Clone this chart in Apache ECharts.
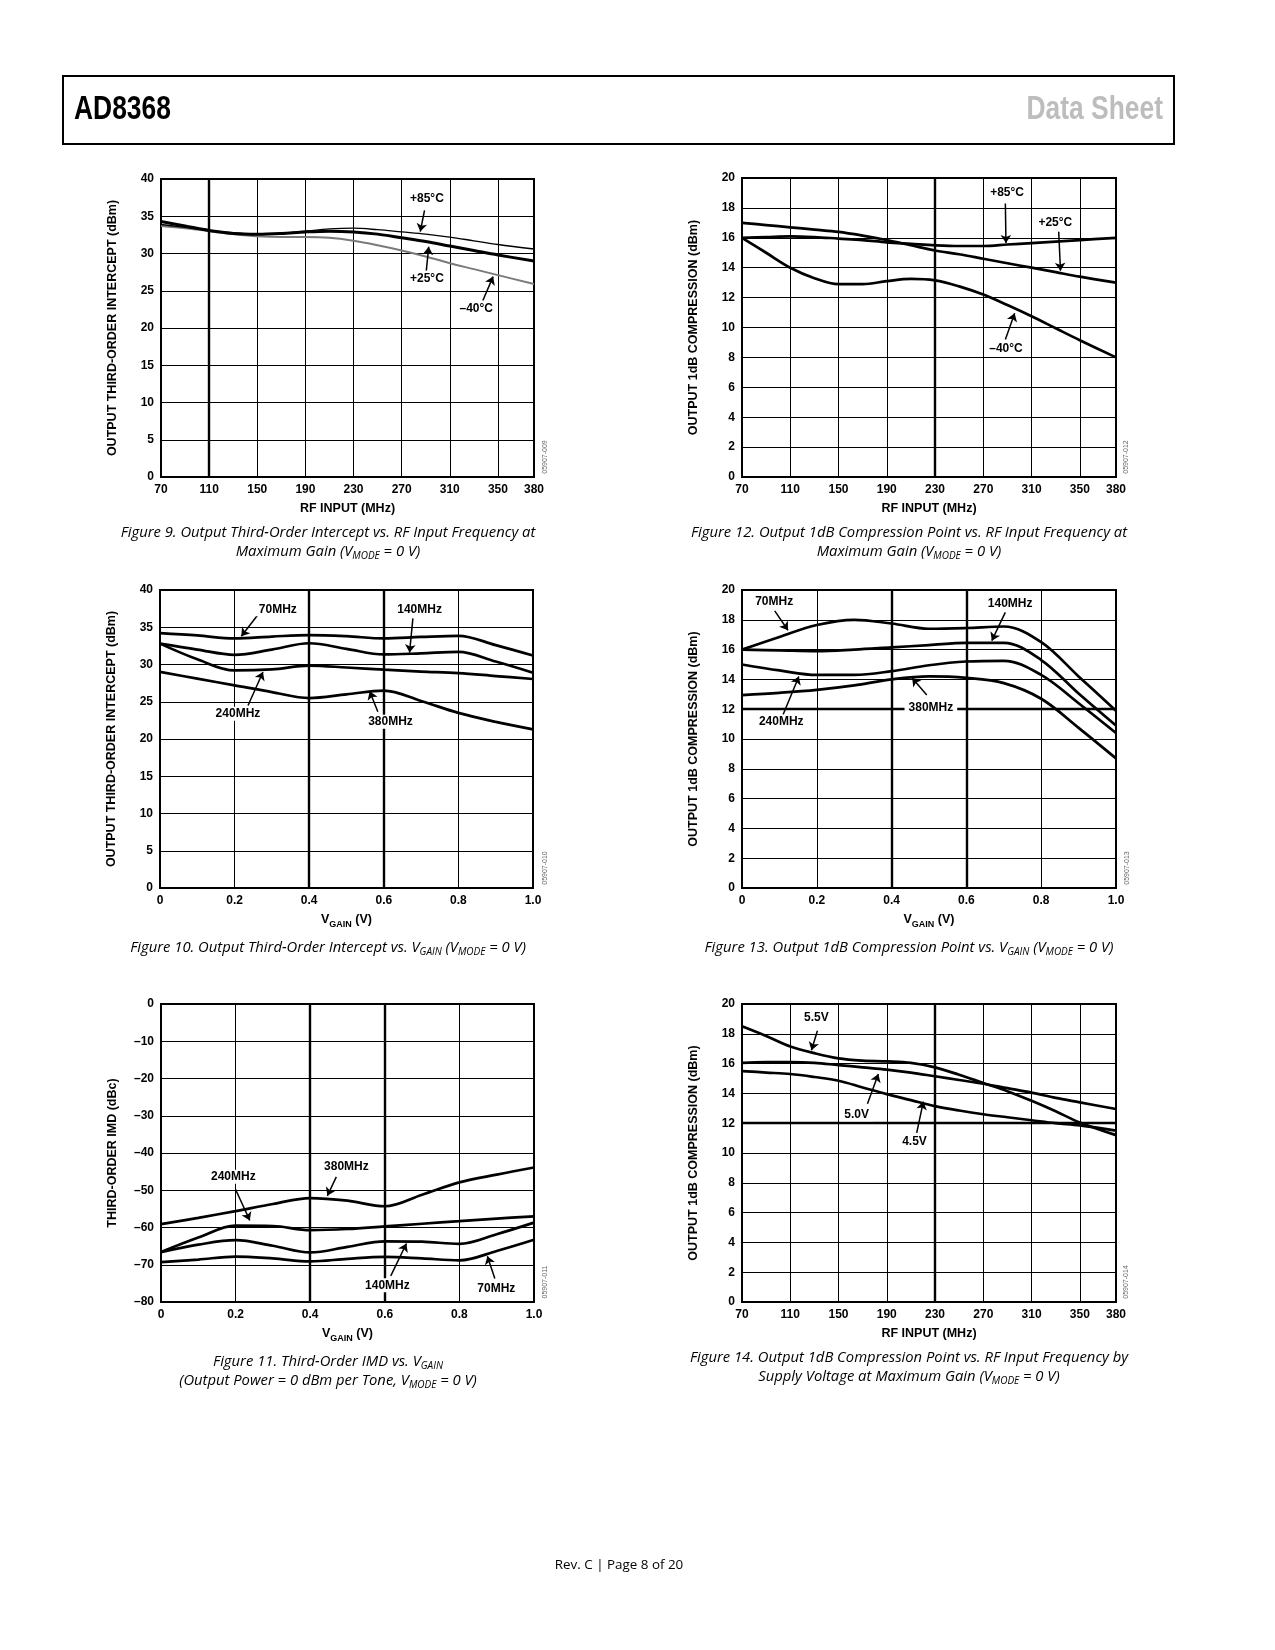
<!DOCTYPE html>
<html><head><meta charset="utf-8">
<script src="https://cdn.jsdelivr.net/npm/echarts@6/dist/echarts.min.js"></script>
<style>html,body{margin:0;padding:0;background:#fff}#c{width:1275px;height:1650px}</style>
</head><body><div id="c"></div>
<script>
// ---------------- data ----------------
const freqMHz   = [70, 90, 110, 130, 150, 170, 190, 210, 230, 250, 270, 290, 310, 330, 350, 380];
const freqTicks = [70, 110, 150, 190, 230, 270, 310, 350, 380];
const vgainV    = [0, 0.1, 0.2, 0.3, 0.4, 0.5, 0.6, 0.7, 0.8, 0.9, 1.0];
const vgainTicks = [0, 0.2, 0.4, 0.6, 0.8, 1.0];

// Figure 9: OIP3 vs RF input (dBm)
const fig9_p85 = [33.9, 33.5, 33.1, 32.8, 32.6, 32.7, 33.0, 33.3, 33.4, 33.2, 32.9, 32.6, 32.2, 31.7, 31.2, 30.6];
const fig9_p25 = [34.3, 33.7, 33.1, 32.7, 32.6, 32.7, 32.9, 33.0, 32.9, 32.6, 32.1, 31.6, 31.0, 30.4, 29.8, 29.0];
const fig9_m40 = [33.7, 33.4, 33.0, 32.6, 32.3, 32.2, 32.2, 32.1, 31.7, 31.1, 30.4, 29.6, 28.7, 27.9, 27.1, 25.9];

// Figure 12: P1dB vs RF input (dBm)
const fig12_p85 = [16.0, 16.05, 16.1, 16.05, 15.95, 15.85, 15.7, 15.6, 15.5, 15.45, 15.45, 15.55, 15.65, 15.75, 15.85, 16.0];
const fig12_p25 = [17.0, 16.85, 16.7, 16.55, 16.4, 16.15, 15.85, 15.5, 15.15, 14.9, 14.6, 14.3, 14.0, 13.7, 13.4, 13.0];
const fig12_m40 = [16.0, 15.0, 14.0, 13.3, 12.9, 12.9, 13.1, 13.25, 13.15, 12.75, 12.2, 11.5, 10.75, 9.95, 9.15, 8.0];

// Figure 10: OIP3 vs VGAIN (dBm)
const fig10_70  = [34.2, 33.9, 33.5, 33.75, 33.95, 33.8, 33.5, 33.7, 33.85, 32.6, 31.2];
const fig10_140 = [32.8, 32.0, 31.3, 32.0, 32.85, 32.1, 31.35, 31.5, 31.7, 30.4, 28.9];
const fig10_240 = [32.8, 30.7, 29.2, 29.35, 29.85, 29.6, 29.3, 29.05, 28.85, 28.45, 28.05];
const fig10_380 = [29.0, 28.1, 27.2, 26.3, 25.5, 26.0, 26.5, 25.1, 23.5, 22.3, 21.3];

// Figure 13: P1dB vs VGAIN (dBm)
const fig13_70  = [16.0, 16.85, 17.65, 18.0, 17.75, 17.4, 17.45, 17.55, 16.5, 14.2, 11.9];
const fig13_140 = [16.0, 15.95, 15.9, 16.0, 16.15, 16.3, 16.45, 16.45, 15.3, 13.05, 10.9];
const fig13_240 = [15.0, 14.6, 14.3, 14.3, 14.55, 14.95, 15.2, 15.25, 14.3, 12.4, 10.4];
const fig13_380 = [12.95, 13.1, 13.3, 13.6, 14.0, 14.2, 14.1, 13.75, 12.7, 10.75, 8.7];

// Figure 11: IMD3 vs VGAIN (dBc)
const fig11_380 = [-59.1, -57.4, -55.6, -53.7, -52.1, -52.8, -54.3, -51.2, -47.9, -45.8, -43.9];
const fig11_240 = [-66.6, -62.7, -59.5, -59.6, -60.7, -60.4, -59.7, -59.0, -58.3, -57.6, -57.0];
const fig11_140 = [-66.6, -64.6, -63.4, -64.9, -66.7, -65.2, -63.7, -63.8, -64.4, -61.8, -58.7];
const fig11_70  = [-69.3, -68.6, -67.8, -68.3, -69.1, -68.4, -67.9, -68.3, -68.8, -66.3, -63.3];

// Figure 14: P1dB vs RF input by supply (dBm)
const fig14_55 = [18.5, 17.85, 17.15, 16.7, 16.35, 16.2, 16.15, 16.05, 15.75, 15.25, 14.7, 14.15, 13.5, 12.8, 12.05, 11.2];
const fig14_50 = [16.05, 16.1, 16.1, 16.05, 15.9, 15.75, 15.6, 15.4, 15.15, 14.9, 14.65, 14.35, 14.05, 13.7, 13.4, 12.95];
const fig14_45 = [15.5, 15.4, 15.3, 15.1, 14.85, 14.4, 13.95, 13.55, 13.15, 12.85, 12.6, 12.4, 12.2, 12.0, 11.85, 11.5];

// annotation callouts [text, x, y] and arrows [x1, y1, x2, y2] in data units
const fig9_labels  = [['+85°C', 291, 37.3], ['+25°C', 291, 26.6], ['–40°C', 332, 22.6]];
const fig9_arrows  = [[289, 35.8, 285.5, 32.95], [290.5, 27.7, 292.5, 30.9], [337.5, 23.7, 346, 26.9]];
const fig12_labels = [['+85°C', 289.7, 19.05], ['+25°C', 329.7, 17.0], ['–40°C', 288.8, 8.6]];
const fig12_arrows = [[288.3, 18.3, 288.8, 15.65], [332.5, 16.4, 334, 13.8], [288.3, 9.2, 296, 10.95]];
const fig10_labels = [['70MHz', 0.316, 37.4], ['140MHz', 0.696, 37.3], ['240MHz', 0.209, 23.4], ['380MHz', 0.618, 22.3]];
const fig10_arrows = [[0.263, 36.7, 0.218, 33.8], [0.678, 36.2, 0.669, 31.6], [0.236, 24.5, 0.276, 29.0], [0.584, 23.65, 0.562, 26.4]];
const fig13_labels = [['70MHz', 0.086, 19.2], ['140MHz', 0.717, 19.1], ['240MHz', 0.105, 11.15], ['380MHz', 0.505, 12.1]];
const fig13_arrows = [[0.0875, 18.6, 0.123, 17.3], [0.704, 18.5, 0.668, 16.6], [0.11, 11.65, 0.152, 14.2], [0.494, 12.95, 0.455, 14.1]];
const fig11_labels = [['240MHz', 0.194, -46.4], ['380MHz', 0.497, -43.7], ['140MHz', 0.607, -75.5], ['70MHz', 0.899, -76.4]];
const fig11_arrows = [[0.2, -49.8, 0.238, -58.1], [0.47, -46.4, 0.446, -51.5], [0.616, -73.0, 0.658, -64.3], [0.895, -73.7, 0.875, -67.7]];
const fig14_labels = [['5.5V', 131.7, 19.1], ['5.0V', 165, 12.6], ['4.5V', 213, 10.75]];
const fig14_arrows = [[132.5, 18.2, 127.6, 16.9], [174, 13.3, 183, 15.3], [214.8, 11.35, 220.3, 13.45]];

// emphasised grid lines of the original artwork
const fig9_boldX = [110];   const fig9_boldY = [];
const fig12_boldX = [230];  const fig12_boldY = [];
const fig10_boldX = [0.4, 0.6]; const fig10_boldY = [];
const fig13_boldX = [0.4, 0.6]; const fig13_boldY = [12];
const fig11_boldX = [0.4, 0.6]; const fig11_boldY = [];
const fig14_boldX = [230];  const fig14_boldY = [12];

// ---------------- helpers ----------------
const AF = 'Liberation Sans, Arial, sans-serif';
const CF = 'Open Sans, Lato, sans-serif';
const grids = [
  {left: 161, top: 179, width: 373, height: 298},
  {left: 742, top: 178, width: 374, height: 299},
  {left: 160, top: 590, width: 373, height: 298},
  {left: 742, top: 590, width: 374, height: 298},
  {left: 161, top: 1004, width: 373, height: 298},
  {left: 742, top: 1004, width: 374, height: 298}
].map(g => Object.assign({show: true, borderColor: '#000', borderWidth: 2, backgroundColor: 'transparent', containLabel: false}, g));

const labelStyle = {color: '#000', fontFamily: AF, fontWeight: 'bold', fontSize: 12};
const nameStyle = {color: '#000', fontFamily: AF, fontWeight: 'bold', fontSize: 12.5};
const splitLine = {show: true, lineStyle: {color: '#000', width: 1}};

function freqAxis(gi) {
  return {gridIndex: gi, type: 'value', min: 70, max: 380,
    axisLine: {show: false}, axisTick: {show: false, customValues: freqTicks},
    axisLabel: Object.assign({customValues: freqTicks, margin: 7, showMinLabel: true, showMaxLabel: true}, labelStyle),
    splitLine,
    name: 'RF INPUT (MHz)', nameLocation: 'middle', nameGap: 25,
    nameTextStyle: nameStyle};
}
function vgainAxis(gi) {
  return {gridIndex: gi, type: 'value', min: 0, max: 1, interval: 0.2,
    axisLine: {show: false}, axisTick: {show: false},
    axisLabel: Object.assign({margin: 7, formatter: v => (Math.abs(v) < 1e-9 ? '0' : v.toFixed(1))}, labelStyle),
    splitLine,
    name: '{a|V}{b|GAIN}{a| (V)}', nameLocation: 'middle', nameGap: 22,
    nameTextStyle: {rich: {
      a: {fontFamily: AF, fontWeight: 'bold', fontSize: 12.5, color: '#000', lineHeight: 19, verticalAlign: 'middle'},
      b: {fontFamily: AF, fontWeight: 'bold', fontSize: 9, color: '#000', lineHeight: 19, verticalAlign: 'bottom'}
    }}};
}
function yAxis(gi, name, min, max, interval) {
  return {gridIndex: gi, type: 'value', min, max, interval,
    axisLine: {show: false}, axisTick: {show: false},
    axisLabel: Object.assign({margin: 7, formatter: v => String(v).replace('-', '–')}, labelStyle),
    splitLine,
    name, nameLocation: 'middle', nameRotate: 90, nameGap: 42,
    nameTextStyle: nameStyle};
}
function line(gi, xs, ys, color, width) {
  return {type: 'line', xAxisIndex: gi, yAxisIndex: gi, data: xs.map((x, i) => [x, ys[i]]),
    smooth: 0.35, symbol: 'none', silent: true, lineStyle: {color, width}, z: 3};
}
function boldGrid(gi, bx, by) {
  return {type: 'line', xAxisIndex: gi, yAxisIndex: gi, data: [], silent: true, z: 2,
    markLine: {silent: true, symbol: ['none', 'none'], animation: false, label: {show: false},
      lineStyle: {color: '#000', width: 2.4, type: 'solid'},
      emphasis: {disabled: true},
      data: bx.map(v => ({xAxis: v})).concat(by.map(v => ({yAxis: v})))}};
}
function annot(gi, labels, arrows) {
  return {type: 'line', xAxisIndex: gi, yAxisIndex: gi, data: [], silent: true, z: 5,
    markLine: {silent: true, symbol: ['none', 'arrow'], symbolSize: 8, animation: false, label: {show: false},
      lineStyle: {color: '#000', width: 1.5, type: 'solid'}, emphasis: {disabled: true},
      data: arrows.map(a => [{coord: [a[0], a[1]]}, {coord: [a[2], a[3]]}])},
    markPoint: {silent: true, animation: false, symbol: 'rect', symbolSize: 1,
      itemStyle: {color: 'rgba(0,0,0,0)'},
      label: Object.assign({show: true, position: 'inside', formatter: '{b}', backgroundColor: '#fff', padding: [1, 4]}, labelStyle),
      data: labels.map(l => ({name: l[0], coord: [l[1], l[2]]}))}};
}

const xAxes = [freqAxis(0), freqAxis(1), vgainAxis(2), vgainAxis(3), vgainAxis(4), freqAxis(5)];
const yAxes = [
  yAxis(0, 'OUTPUT THIRD-ORDER INTERCEPT (dBm)', 0, 40, 5),
  yAxis(1, 'OUTPUT 1dB COMPRESSION (dBm)', 0, 20, 2),
  yAxis(2, 'OUTPUT THIRD-ORDER INTERCEPT (dBm)', 0, 40, 5),
  yAxis(3, 'OUTPUT 1dB COMPRESSION (dBm)', 0, 20, 2),
  yAxis(4, 'THIRD-ORDER IMD (dBc)', -80, 0, 10),
  yAxis(5, 'OUTPUT 1dB COMPRESSION (dBm)', 0, 20, 2)
];

const W = 2.7;
const series = [
  boldGrid(0, fig9_boldX, fig9_boldY),
  line(0, freqMHz, fig9_m40, '#7a7a7a', 2),
  line(0, freqMHz, fig9_p85, '#000', 1.4),
  line(0, freqMHz, fig9_p25, '#000', 3),
  annot(0, fig9_labels, fig9_arrows),

  boldGrid(1, fig12_boldX, fig12_boldY),
  line(1, freqMHz, fig12_p85, '#000', W),
  line(1, freqMHz, fig12_p25, '#000', W),
  line(1, freqMHz, fig12_m40, '#000', W),
  annot(1, fig12_labels, fig12_arrows),

  boldGrid(2, fig10_boldX, fig10_boldY),
  line(2, vgainV, fig10_70, '#000', W),
  line(2, vgainV, fig10_140, '#000', W),
  line(2, vgainV, fig10_240, '#000', W),
  line(2, vgainV, fig10_380, '#000', W),
  annot(2, fig10_labels, fig10_arrows),

  boldGrid(3, fig13_boldX, fig13_boldY),
  line(3, vgainV, fig13_70, '#000', W),
  line(3, vgainV, fig13_140, '#000', W),
  line(3, vgainV, fig13_240, '#000', W),
  line(3, vgainV, fig13_380, '#000', W),
  annot(3, fig13_labels, fig13_arrows),

  boldGrid(4, fig11_boldX, fig11_boldY),
  line(4, vgainV, fig11_380, '#000', W),
  line(4, vgainV, fig11_240, '#000', W),
  line(4, vgainV, fig11_140, '#000', W),
  line(4, vgainV, fig11_70, '#000', W),
  annot(4, fig11_labels, fig11_arrows),

  boldGrid(5, fig14_boldX, fig14_boldY),
  line(5, freqMHz, fig14_55, '#000', W),
  line(5, freqMHz, fig14_50, '#000', W),
  line(5, freqMHz, fig14_45, '#000', W),
  annot(5, fig14_labels, fig14_arrows)
];

// captions & page texts
const capRich = {s: {fontFamily: CF, fontStyle: 'italic', fontSize: 10, fill: '#000', lineHeight: 19, verticalAlign: 'bottom'}};
function caption(cx, top, text) {
  return {type: 'text', x: cx, y: top, z: 10, silent: true,
    style: {text, fill: '#000', fontFamily: CF, fontStyle: 'italic', fontSize: 14.8, lineHeight: 19,
      align: 'center', verticalAlign: 'top', rich: capRich}};
}
function code(cx, cy, text) {
  return {type: 'text', x: cx, y: cy, rotation: Math.PI / 2, z: 10, silent: true,
    style: {text, fill: '#666', fontFamily: AF, fontSize: 7, align: 'center', verticalAlign: 'middle'}};
}
const graphic = [
  {type: 'rect', z: 10, silent: true, shape: {x: 63, y: 76, width: 1111, height: 68},
    style: {fill: 'none', stroke: '#000', lineWidth: 2}},
  {type: 'text', x: 74, y: 110, scaleX: 0.8, z: 10, silent: true,
    style: {text: 'AD8368', fill: '#000', fontFamily: AF, fontWeight: 'bold', fontSize: 33, align: 'left', verticalAlign: 'middle'}},
  {type: 'text', x: 1163, y: 110, scaleX: 0.8, z: 10, silent: true,
    style: {text: 'Data Sheet', fill: '#bdbdbd', fontFamily: AF, fontWeight: 'bold', fontSize: 33, align: 'right', verticalAlign: 'middle'}},
  caption(328, 523, 'Figure 9. Output Third-Order Intercept vs. RF Input Frequency at\nMaximum Gain (V{s|MODE} = 0 V)'),
  caption(909, 523, 'Figure 12. Output 1dB Compression Point vs. RF Input Frequency at\nMaximum Gain (V{s|MODE} = 0 V)'),
  caption(328, 938, 'Figure 10. Output Third-Order Intercept vs. V{s|GAIN} (V{s|MODE} = 0 V)'),
  caption(909, 938, 'Figure 13. Output 1dB Compression Point vs. V{s|GAIN} (V{s|MODE} = 0 V)'),
  caption(328, 1352, 'Figure 11. Third-Order IMD vs. V{s|GAIN}\n(Output Power = 0 dBm per Tone, V{s|MODE} = 0 V)'),
  caption(909, 1348, 'Figure 14. Output 1dB Compression Point vs. RF Input Frequency by\nSupply Voltage at Maximum Gain (V{s|MODE} = 0 V)'),
  code(545, 457, '05907-009'),
  code(1126, 457, '05907-012'),
  code(545, 868, '05907-010'),
  code(1127, 868, '05907-013'),
  code(545, 1282, '05907-011'),
  code(1126, 1282, '05907-014'),
  {type: 'text', x: 619, y: 1565, z: 10, silent: true,
    style: {text: 'Rev. C | Page 8 of 20', fill: '#000', fontFamily: CF, fontSize: 13.4, align: 'center', verticalAlign: 'middle'}}
];

const chart = echarts.init(document.getElementById('c'), null, {renderer: 'canvas'});
chart.setOption({
  animation: false,
  backgroundColor: '#fff',
  grid: grids,
  xAxis: xAxes,
  yAxis: yAxes,
  series,
  graphic
});
</script>
</body></html>
